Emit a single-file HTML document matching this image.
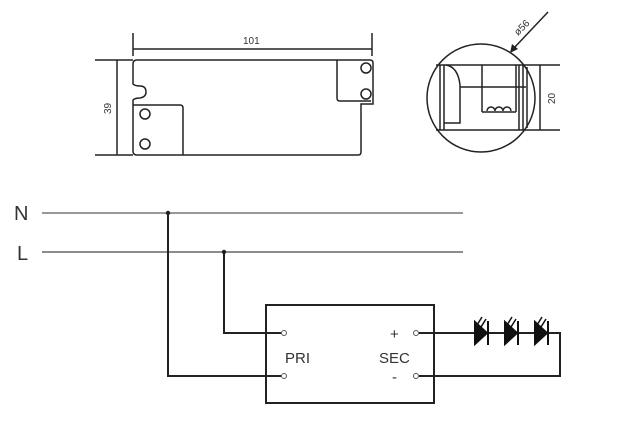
<!DOCTYPE html>
<html><head><meta charset="utf-8"><style>html,body{margin:0;padding:0;background:#fff}svg{display:block}</style></head>
<body>
<svg width="623" height="421" viewBox="0 0 623 421" xmlns="http://www.w3.org/2000/svg" font-family="Liberation Sans, sans-serif">
<g stroke="#222" fill="none" stroke-width="1.5">
<line x1="133" y1="33" x2="133" y2="56"/><line x1="372" y1="33" x2="372" y2="56"/>
<line x1="133" y1="49" x2="372" y2="49"/>
<line x1="95" y1="60" x2="133" y2="60"/><line x1="95" y1="155" x2="133" y2="155"/>
<line x1="117" y1="60" x2="117" y2="155"/>
<path d="M137 60 L370 60 Q373 60 373 63 L373 104 L361 104 L361 152 Q361 155 358 155 L137 155 Q133 155 133 151 L133 100 Q135 98 140 98 Q146 97 146 92 Q146 86 140 86 Q135 86 133 84 L133 64 Q133 60 137 60 Z"/>
<path d="M133 105 L180 105 Q183 105 183 108 L183 155"/>
<path d="M337 60 L337 98 Q337 101 340 101 L371 101"/>
<circle cx="145" cy="114" r="5"/><circle cx="145" cy="144" r="5"/>
<circle cx="366" cy="68" r="5"/><circle cx="366" cy="94" r="5"/>
<circle cx="481" cy="98" r="54"/>
<line x1="436" y1="65" x2="560" y2="65"/><line x1="436" y1="130" x2="560" y2="130"/>
<line x1="540" y1="65" x2="540" y2="130"/>
<line x1="440" y1="65" x2="440" y2="130"/><line x1="444" y1="65" x2="444" y2="130"/>
<path d="M444 123 L460 123 L460 85 Q458 67 446 65"/>
<line x1="460" y1="87" x2="526" y2="87"/>
<line x1="482" y1="65" x2="482" y2="112"/><line x1="516" y1="65" x2="516" y2="112"/>
<line x1="482" y1="112" x2="516" y2="112"/>
<path d="M487 111 a4 4 0 0 1 8 0 a4 4 0 0 1 8 0 a4 4 0 0 1 8 0"/>
<line x1="519" y1="65" x2="519" y2="130"/><line x1="523" y1="65" x2="523" y2="130"/><line x1="527" y1="67" x2="527" y2="128"/>
<line x1="548" y1="12" x2="514" y2="48"/>
</g>
<polygon points="510,53 512,44 518,49" fill="#222"/>
<text x="0" y="0" font-size="10" fill="#333" transform="translate(111,114) rotate(-90)">39</text>
<text x="243" y="44" font-size="10" fill="#333">101</text>
<text x="0" y="0" font-size="10" fill="#333" transform="translate(555,104) rotate(-90)">20</text>
<text x="0" y="0" font-size="10" fill="#333" transform="translate(518,36) rotate(-45)">ø56</text>
<line x1="42" y1="213" x2="463" y2="213" stroke="#999" stroke-width="2"/>
<line x1="42" y1="252" x2="463" y2="252" stroke="#666" stroke-width="1.5"/>
<text x="14" y="220" font-size="20" fill="#333">N</text>
<text x="17" y="260" font-size="20" fill="#333">L</text>
<g stroke="#222" fill="none" stroke-width="2">
<path d="M168 213 L168 376 L281 376"/>
<path d="M224 252 L224 333 L281 333"/>
<rect x="266" y="305" width="168" height="98"/>
<path d="M419 333 L560 333 L560 376 L419 376"/>
</g>
<circle cx="168" cy="213" r="2.2" fill="#222"/><circle cx="224" cy="252" r="2.2" fill="#222"/>
<g stroke="#555" fill="#fff" stroke-width="1"><circle cx="284" cy="333" r="2.5"/><circle cx="284" cy="376" r="2.5"/><circle cx="416" cy="333" r="2.5"/><circle cx="416" cy="376" r="2.5"/></g>
<text x="285" y="363" font-size="15" fill="#333">PRI</text>
<text x="379" y="363" font-size="15" fill="#333">SEC</text>
<text x="390" y="339" font-size="15" fill="#333">+</text>
<text x="392" y="382" font-size="15" fill="#333">-</text>
<g fill="#111" stroke="#111" stroke-width="2">
<polygon points="475,322 475,344 487,333"/><line x1="488" y1="321" x2="488" y2="345"/>
<polygon points="505,322 505,344 517,333"/><line x1="518" y1="321" x2="518" y2="345"/>
<polygon points="535,322 535,344 547,333"/><line x1="548" y1="321" x2="548" y2="345"/>
</g>
<g stroke="#111" stroke-width="1.5">
<line x1="477" y1="325" x2="482" y2="317"/><line x1="481" y1="327" x2="486" y2="319"/>
<line x1="507" y1="325" x2="512" y2="317"/><line x1="511" y1="327" x2="516" y2="319"/>
<line x1="537" y1="325" x2="542" y2="317"/><line x1="541" y1="327" x2="546" y2="319"/>
</g>
</svg>
</body></html>
